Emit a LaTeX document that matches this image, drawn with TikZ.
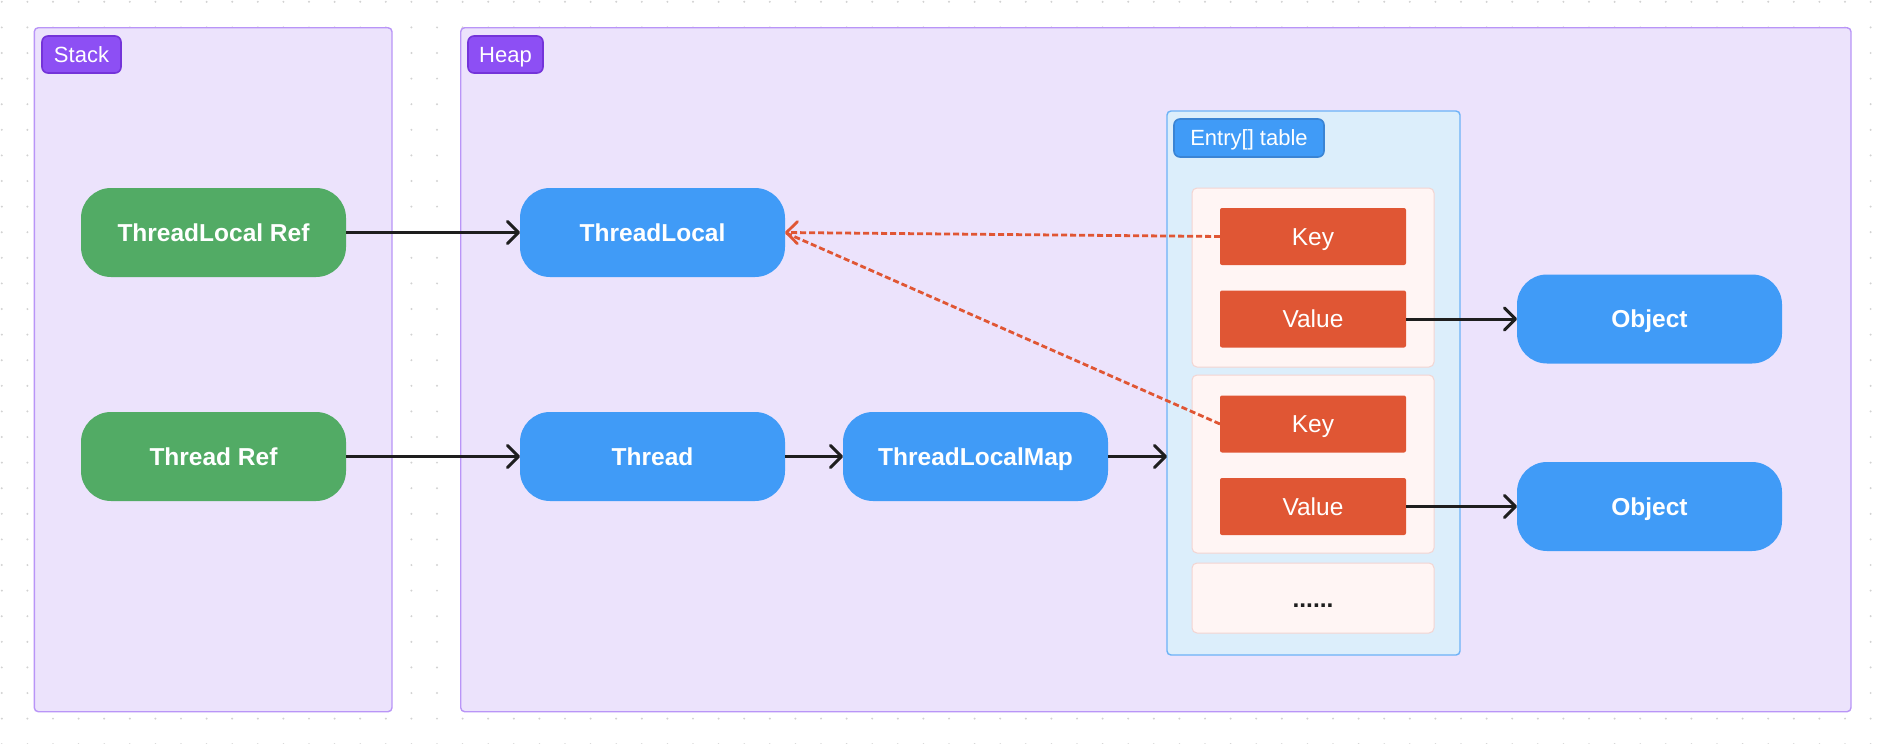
\documentclass[tikz,border=0pt]{standalone}
\usepackage{fontspec}
\setmainfont{Liberation Sans}
\usetikzlibrary{arrows.meta}
\definecolor{dotc}{HTML}{D2D2D2}
\definecolor{panelfill}{HTML}{ECE3FC}
\definecolor{paneldraw}{HTML}{B995F7}
\definecolor{tagpurple}{HTML}{8D4FF4}
\definecolor{tagpurpled}{HTML}{7434D9}
\definecolor{greenn}{HTML}{52AB65}
\definecolor{bluen}{HTML}{409BF7}
\definecolor{bluend}{HTML}{3A84D4}
\definecolor{tablefill}{HTML}{DCEEFB}
\definecolor{tabledraw}{HTML}{6CB2F7}
\definecolor{rowfill}{HTML}{FFF5F4}
\definecolor{rowdraw}{HTML}{F3D4D1}
\definecolor{redn}{HTML}{E05634}
\definecolor{arrowc}{HTML}{1E1E1E}
\begin{document}
\begin{tikzpicture}[x=1pt,y=-1pt,
  panel/.style={draw=paneldraw, fill=panelfill, line width=1.4pt, rounded corners=4pt, inner sep=0pt, outer sep=0pt},
  tag/.style={draw=tagpurpled, fill=tagpurple, line width=1.6pt, rounded corners=6pt, text=white, inner sep=0pt, outer sep=0pt, text height=15.8pt, text depth=0pt, font=\fontsize{22}{26}\selectfont},
  pill/.style={rounded corners=30pt, text=white, minimum width=265pt, minimum height=89pt, inner sep=0pt, outer sep=0pt, text height=17.5pt, text depth=0pt, font=\bfseries\fontsize{24.5}{30}\selectfont},
  gpill/.style={pill, fill=greenn},
  bpill/.style={pill, fill=bluen},
  tablebox/.style={draw=tabledraw, fill=tablefill, line width=1.4pt, rounded corners=4pt, inner sep=0pt, outer sep=0pt},
  rowbox/.style={draw=rowdraw, fill=rowfill, line width=1pt, rounded corners=5pt, inner sep=0pt, outer sep=0pt},
  kvbox/.style={fill=redn, rounded corners=2pt, text=white, minimum width=186pt, minimum height=57pt, inner sep=0pt, outer sep=0pt, text height=17.5pt, text depth=0pt, font=\fontsize{24.5}{30}\selectfont},
  conn/.style={draw=arrowc, line width=3pt, -{Straight Barb[length=11pt,width=22pt,line width=3pt,round]}},
  weak/.style={draw=redn, line width=2.8pt, dash pattern=on 6pt off 3pt},
  weakhead/.style={weak, -{Straight Barb[length=11pt,width=22pt,line width=2.8pt,round]}}
]
\useasboundingbox[fill=white] (0,0) rectangle (1888,744);
\foreach \i in {0,...,73} {\foreach \j in {0,...,29} {\fill[dotc] (1.8+25.6*\i, 1.8+25.6*\j) circle (1.1pt);}}
% panels
\node[panel, anchor=north west, minimum width=357.7pt, minimum height=684pt] (stack) at (34.3,27.7) {};
\node[panel, anchor=north west, minimum width=1390.3pt, minimum height=684pt] (heap) at (460.7,27.7) {};
\node[tag, minimum width=79pt, minimum height=37pt] (stacktag) at (81.5,54.5) {Stack};
\node[tag, minimum width=75pt, minimum height=37pt] (heaptag) at (505.5,54.5) {Heap};
% entry table
\node[tablebox, anchor=north west, minimum width=293pt, minimum height=544pt] (table) at (1167,111) {};
\node[tag, draw=bluend, fill=bluen, minimum width=150pt, minimum height=38pt] (tabletag) at (1249,138) {Entry[] table};
\node[rowbox, anchor=north west, minimum width=242pt, minimum height=179pt] (row1) at (1192,188) {};
\node[rowbox, anchor=north west, minimum width=242pt, minimum height=178pt] (row2) at (1192,375) {};
\node[rowbox, anchor=north west, minimum width=242pt, minimum height=70pt] (row3) at (1192,563) {};
\node[kvbox] (key1) at (1313,236.5) {Key};
\node[kvbox] (val1) at (1313,319) {Value};
\node[kvbox] (key2) at (1313,424) {Key};
\node[kvbox] (val2) at (1313,506.5) {Value};
\node[font=\bfseries\fontsize{24.5}{30}\selectfont, text=arrowc, inner sep=0pt, anchor=base] (more) at (1313,607) {......};
% pills
\node[gpill] (tlref) at (213.5,232.5) {ThreadLocal Ref};
\node[gpill] (thref) at (213.5,456.5) {Thread Ref};
\node[bpill] (tl) at (652.5,232.5) {ThreadLocal};
\node[bpill] (th) at (652.5,456.5) {Thread};
\node[bpill] (tlm) at (975.5,456.5) {ThreadLocalMap};
\node[bpill] (obj1) at (1649.5,319) {Object};
\node[bpill] (obj2) at (1649.5,506.5) {Object};
% connectors
\draw[conn] (tlref.east) -- (tl.west);
\draw[conn] (thref.east) -- (th.west);
\draw[conn] (th.east) -- (tlm.west);
\draw[conn] (tlm.east) -- (tlm.east -| table.west);
\draw[conn] (val1.east) -- (obj1.west);
\draw[conn] (val2.east) -- (obj2.west);
\draw[weakhead] (key1.west) -- (tl.east);
\draw[weak] (key2.west) -- (tl.east);
\end{tikzpicture}
\end{document}
